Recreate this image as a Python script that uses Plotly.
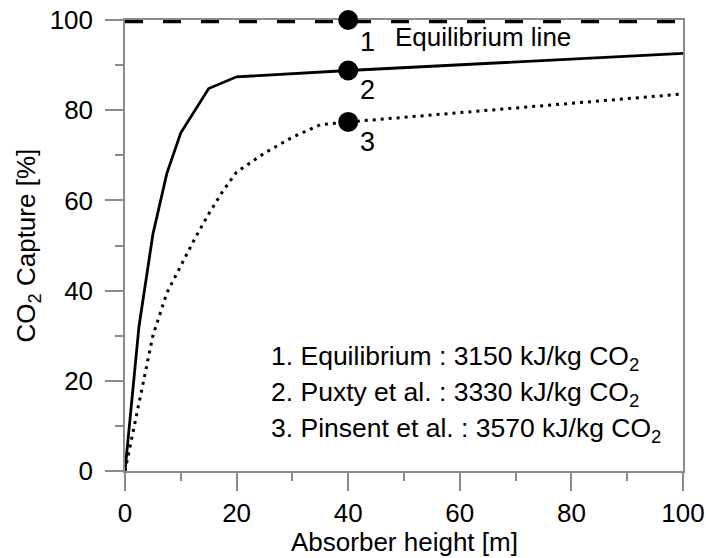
import plotly.graph_objects as go

# Data
height_puxty = [0, 2.5, 5, 7.5, 10, 15, 20, 40, 100]
capture_puxty = [0, 32, 52.5, 66, 75, 84.8, 87.4, 88.8, 92.6]

height_pinsent = [0, 2.5, 5, 7.5, 10, 12.5, 15, 17.5, 20, 25, 30, 35, 40, 100]
capture_pinsent = [0, 15, 30, 39.5, 45.5, 51.5, 57, 62, 66.3, 70.5, 74, 76.8, 77.4, 83.6]

height_equil = [0, 100]
capture_equil = [100, 100]

marker_x = [40, 40, 40]
marker_y = [100, 88.8, 77.4]
marker_labels = ["1", "2", "3"]

legend_lines = [
    "1. Equilibrium : 3150 kJ/kg CO<sub>2</sub>",
    "2. Puxty et al. : 3330 kJ/kg CO<sub>2</sub>",
    "3. Pinsent et al. : 3570 kJ/kg CO<sub>2</sub>",
]
legend_y = [25, 17, 9]

FONT = "Arial, 'Liberation Sans', sans-serif"
AXC = "#8a8a8a"

fig = go.Figure()
# the line lies on the top edge of the plot area and is clipped there,
# so a wider stroke leaves a visible dash of about 3 px
fig.add_trace(go.Scatter(x=height_equil, y=capture_equil, mode="lines",
                         line=dict(color="black", width=6.5, dash="18px,20px"),
                         cliponaxis=False, showlegend=False))
fig.add_trace(go.Scatter(x=height_puxty, y=capture_puxty, mode="lines",
                         line=dict(color="black", width=2.8),
                         cliponaxis=False, showlegend=False))
fig.add_trace(go.Scatter(x=height_pinsent, y=capture_pinsent, mode="lines",
                         line=dict(color="black", width=3, dash="3px,5px"),
                         cliponaxis=False, showlegend=False))
fig.add_trace(go.Scatter(x=marker_x, y=marker_y, mode="markers",
                         marker=dict(color="black", size=20),
                         cliponaxis=False, showlegend=False))

annots = []
label_pos = [(43.4, 95.1), (43.4, 84.4), (43.4, 72.9)]
for t, (lx, ly) in zip(marker_labels, label_pos):
    annots.append(dict(x=lx, y=ly, xref="x", yref="y", text=t, showarrow=False,
                       font=dict(family=FONT, size=27, color="black"),
                       xanchor="center", yanchor="middle"))
annots.append(dict(x=48.1, y=96.3, xref="x", yref="y", text="Equilibrium line",
                   showarrow=False, font=dict(family=FONT, size=26, color="black"),
                   xanchor="left", yanchor="middle"))
for t, ly in zip(legend_lines, legend_y):
    annots.append(dict(x=25.8, y=ly, xref="x", yref="y", text=t, showarrow=False,
                       font=dict(family=FONT, size=26.5, color="black"),
                       xanchor="left", yanchor="middle"))
annots.append(dict(x=-0.174, y=0.5, xref="paper", yref="paper",
                   text="CO<sub>2</sub> Capture [%]", textangle=-90, showarrow=False,
                   font=dict(family=FONT, size=26, color="black"),
                   xanchor="center", yanchor="middle"))
annots.append(dict(x=0.5, y=-0.157, xref="paper", yref="paper",
                   text="Absorber height [m]", showarrow=False,
                   font=dict(family=FONT, size=26, color="black"),
                   xanchor="center", yanchor="middle"))

axis_common = dict(
    range=[0, 100], dtick=20, tick0=0, showgrid=False, zeroline=False,
    showline=True, linecolor=AXC, linewidth=1.5, mirror=True,
    ticks="outside", ticklen=18, tickcolor=AXC, tickwidth=1.5,
    tickfont=dict(family=FONT, size=26, color="black"),
    layer="below traces", automargin=False,
    minor=dict(dtick=10, tick0=0, ticks="outside", ticklen=8, tickcolor=AXC, tickwidth=1.5,
               showgrid=False),
)

fig.update_layout(
    width=706, height=558,
    margin=dict(l=125, r=23, t=19.5, b=87, autoexpand=False),
    paper_bgcolor="white", plot_bgcolor="white",
    xaxis=dict(**axis_common, ticklabelstandoff=0),
    yaxis=dict(**axis_common, ticklabelstandoff=7),
    annotations=annots,
)

fig.write_html("out.html")
